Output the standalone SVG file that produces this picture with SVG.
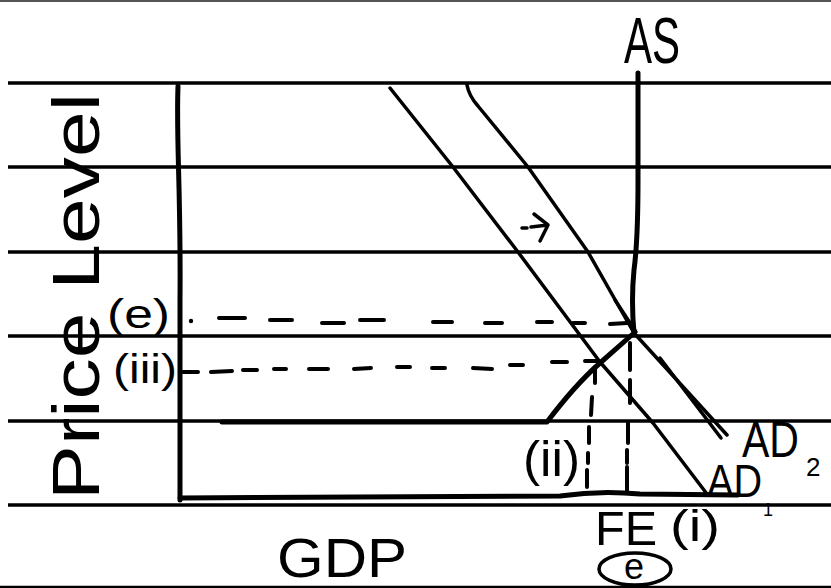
<svg xmlns="http://www.w3.org/2000/svg" width="831" height="588" viewBox="0 0 831 588">
<style>
.rule{stroke:#000;stroke-width:3.5;fill:none}
.ax{stroke:#000;stroke-width:5;fill:none;stroke-linecap:round;stroke-linejoin:round}
.cv{stroke:#000;stroke-width:3.5;fill:none;stroke-linecap:round;stroke-linejoin:round}
.dash{stroke:#000;stroke-width:4;fill:none;stroke-linecap:round}
.lbl{font-family:"Liberation Sans",Arial,sans-serif;fill:#000}
</style>
<rect width="831" height="588" fill="#fff"/>
<g id="paper">
<line x1="0" y1="1" x2="831" y2="1" stroke="#555" stroke-width="2"/>
<line class="rule" x1="8" y1="83" x2="831" y2="83"/>
<line class="rule" x1="8" y1="167" x2="831" y2="167"/>
<line class="rule" x1="8" y1="252" x2="831" y2="252"/>
<line class="rule" x1="8" y1="336" x2="831" y2="336"/>
<line class="rule" x1="8" y1="421" x2="831" y2="421"/>
<line class="rule" x1="8" y1="505" x2="831" y2="505"/>
<line x1="0" y1="587" x2="831" y2="587" stroke="#000" stroke-width="2.5"/>
</g>
<g id="axes">
<path class="ax" d="M178,86 C176,140 181,190 180,300 L180,500"/>
<path class="ax" d="M180,498 L560,496 Q600,490 640,494 L738,495"/>
</g>
<g id="AS">
<path class="ax" d="M222,422 L547,422 Q575,385 600,363 L634,333 Q631,300 634,270 Q638,240 638,180 L638,73"/>
</g>
<g id="AD1">
<path class="cv" d="M390,88 L453,167 L518,252 L600,362 L653,423 L707,494"/>
</g>
<g id="AD2">
<path class="cv" d="M467,85 Q469,96 478,106 L528,167 L588,252 L634,333 L727,435"/>
<path class="cv" d="M615,300 L636,332"/>
<path class="cv" d="M660,358 L721,438"/>
</g>
<g id="shift-arrow">
<path class="cv" d="M522,228 L527,228 M531,227 L548,225 M534,214 L548,225 L540,241"/>
</g>
<g id="connectors">
<circle cx="191" cy="321" r="2.2" fill="#000"/>
<path class="dash" d="M219,318 L245,318 M270,320 L292,320 M322,323 L344,323 M360,320 L384,320 M433,322 L452,322 M485,323 L502,323 M537,322 L552,322 M573,323 L585,323 M610,324 L627,323"/>
<path class="dash" d="M183,372 L198,372 M211,372 L232,371 M243,370 L257,370 M274,369 L286,369 M309,369 L328,369 M354,369 L371,368 M397,367 L410,367 M432,368 L445,368 M473,368 L492,369 M510,365 L523,365 M552,362 L567,362 M585,361 L597,361"/>
<path class="dash" d="M595,367 L595,383 M592,397 L591,415 M589,427 L589,443 M588,453 L588,463 M587,470 L587,487"/>
<path class="dash" d="M630,343 L630,370 M630,380 L630,403 M628,423 L628,443 M627,450 L627,463 M627,467 L627,493"/>
</g>
<g id="label-AS"><text class="lbl" x="624" y="63" font-size="64" textLength="56" lengthAdjust="spacingAndGlyphs">AS</text></g>
<g id="label-AD2"><text class="lbl" x="742" y="457" font-size="50" textLength="57" lengthAdjust="spacingAndGlyphs">AD</text><text class="lbl" x="806" y="476" font-size="26">2</text></g>
<g id="label-AD1"><text class="lbl" x="707" y="497" font-size="46" textLength="55" lengthAdjust="spacingAndGlyphs">AD</text><text class="lbl" x="763" y="516" font-size="18">1</text></g>
<g id="label-ii"><text class="lbl" x="523" y="476" font-size="50" textLength="57" lengthAdjust="spacingAndGlyphs">(ii)</text></g>
<g id="label-FE"><text class="lbl" x="595" y="545" font-size="48" textLength="62" lengthAdjust="spacingAndGlyphs">FE</text><text class="lbl" x="670" y="541" font-size="44" textLength="50" lengthAdjust="spacingAndGlyphs">(i)</text></g>
<g id="label-e-circled"><ellipse cx="635" cy="569" rx="36" ry="16" fill="none" stroke="#000" stroke-width="3.5"/><text class="lbl" x="624" y="579" font-size="36">e</text></g>
<g id="label-GDP"><text class="lbl" x="277" y="577" font-size="55" textLength="130" lengthAdjust="spacingAndGlyphs">GDP</text></g>
<g id="label-e"><text class="lbl" x="107" y="328" font-size="40" textLength="63" lengthAdjust="spacingAndGlyphs">(e)</text></g>
<g id="label-iii"><text class="lbl" x="113" y="383" font-size="40" textLength="64" lengthAdjust="spacingAndGlyphs">(iii)</text></g>
<g id="label-price-level"><text class="lbl" transform="translate(99,500) rotate(-90)" x="0" y="0" font-size="66" textLength="407" lengthAdjust="spacingAndGlyphs">Price Level</text></g>
</svg>
